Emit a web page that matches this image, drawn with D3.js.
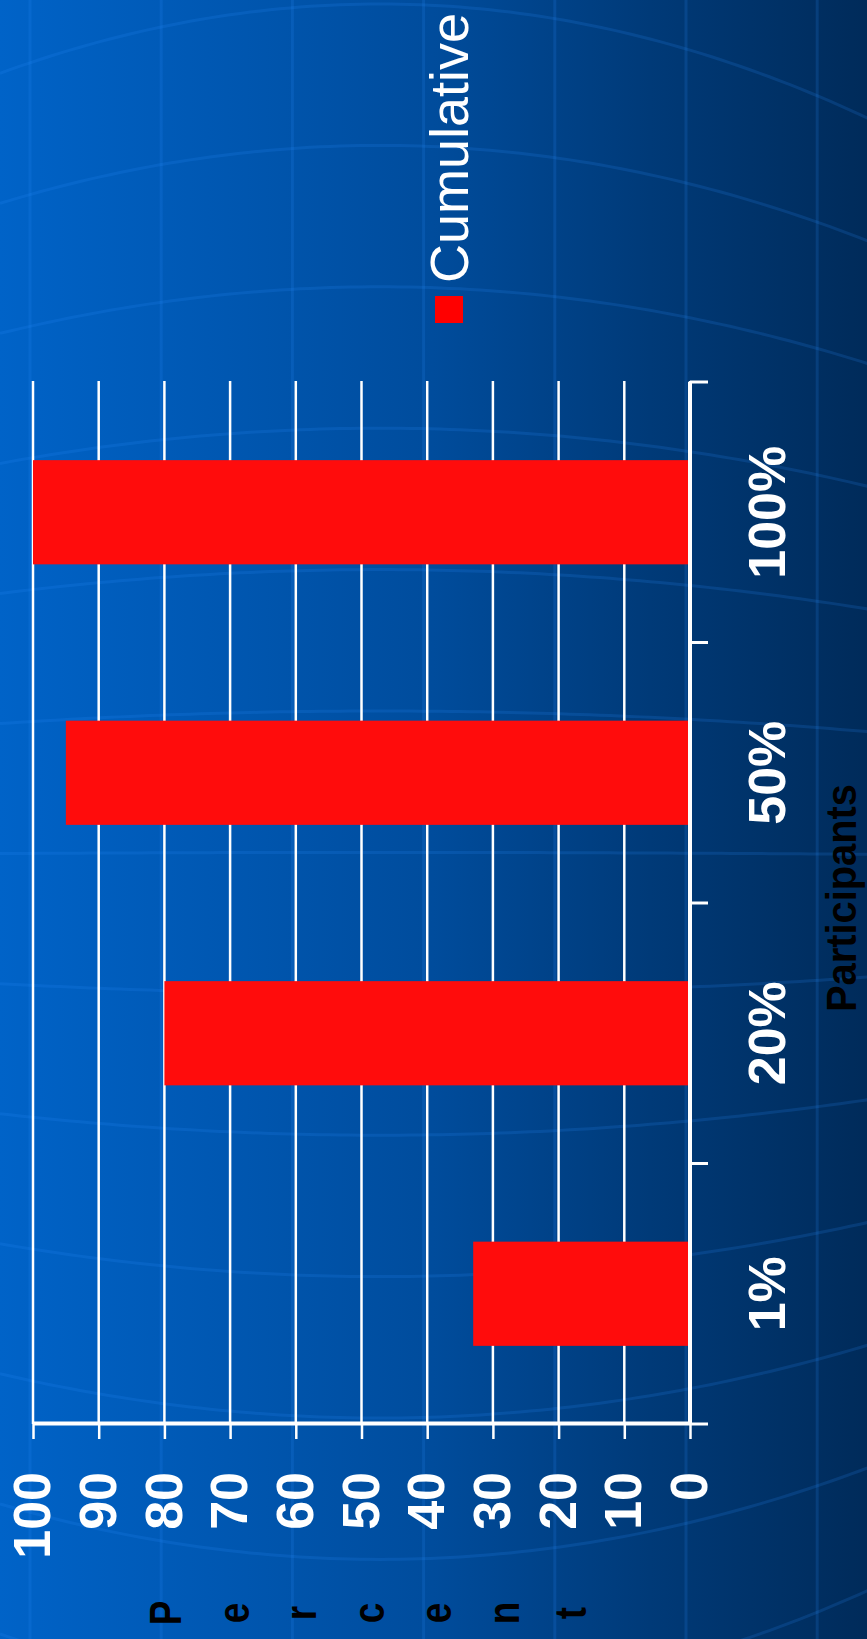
<!DOCTYPE html>
<html><head><meta charset="utf-8">
<script src="https://cdn.jsdelivr.net/npm/d3@7"></script>
<style>html,body{margin:0;padding:0;background:#003a78;} svg{display:block;}</style>
</head><body>
<script>
// ---- data ----
const categories = ["1%", "20%", "50%", "100%"];
const cumulative = [33, 80, 95, 100];
const valueTicks = [0, 10, 20, 30, 40, 50, 60, 70, 80, 90, 100];
const seriesName = "Cumulative";
const xTitle = "Participants";
const yTitle = "Percent";

const W = 867, H = 1639;
const FONT = "'Liberation Sans', Arial, sans-serif";
const svg = d3.select("body").append("svg").attr("width", W).attr("height", H);
const defs = svg.append("defs");
const grad = defs.append("linearGradient").attr("id", "bg")
  .attr("x1", "0").attr("x2", "1").attr("y1", "0").attr("y2", "0");
[[0, "#0063c8"], [0.5, "#004c9c"], [0.75, "#003a78"], [1, "#002b5a"]]
  .forEach(([o, c]) => grad.append("stop").attr("offset", o).attr("stop-color", c));
svg.append("rect").attr("width", W).attr("height", H).attr("fill", "url(#bg)");

// ---- decorative background (template globe lines) ----
const deco = svg.append("g").attr("fill", "none").attr("stroke", "#2a8cff")
  .attr("stroke-opacity", 0.17).attr("stroke-width", 3);
d3.range(7).forEach(i => deco.append("line")
  .attr("x1", 30 + 131.2 * i).attr("x2", 30 + 131.2 * i).attr("y1", 0).attr("y2", H));
const lineGen = d3.line();
d3.range(-1, 13).forEach(i => {
  const y0 = 4 + 141.4 * i;
  const k = 0.00048 - 0.000000556 * (y0 - 4);
  const pts = d3.range(0, W + 10, 10).map(px => [px, y0 + k * (px - 380) * (px - 380)]);
  deco.append("path").attr("d", lineGen(pts));
});

// ---- chart (column chart rotated -90deg) ----
const g = svg.append("g").attr("transform", `translate(0,${H}) rotate(-90)`);
const y = d3.scaleLinear().domain([0, 100]).range([690, 33]);
const x = d3.scaleBand().domain(categories).range([215, 1257]).paddingInner(0.6).paddingOuter(0.3);
const step = x.step();
const xStart = x.range()[0], xEnd = x.range()[1];

// gridlines
g.append("g").selectAll("line").data(valueTicks).join("line")
  .attr("x1", xStart).attr("x2", xEnd + 1)
  .attr("y1", d => y(d)).attr("y2", d => y(d))
  .attr("stroke", "#fff").attr("stroke-width", 2.5);

// bars
g.append("g").selectAll("rect").data(categories).join("rect")
  .attr("x", d => x(d)).attr("width", x.bandwidth())
  .attr("y", (d, i) => y(cumulative[i]))
  .attr("height", (d, i) => y(0) - y(cumulative[i]))
  .attr("fill", "#ff0c0c");

// value axis
const ya = g.append("g").attr("transform", `translate(${xStart},0)`)
  .call(d3.axisLeft(y).tickValues(valueTicks).tickSize(15).tickSizeOuter(0).tickPadding(33));
ya.select(".domain").attr("stroke", "#fff").attr("stroke-width", 4);
ya.selectAll(".tick line").attr("stroke", "#fff").attr("stroke-width", 2.5);
ya.selectAll(".tick text").attr("fill", "#fff").style("font", `bold 52px ${FONT}`);

// category axis
g.append("line").attr("x1", xStart).attr("x2", xEnd)
  .attr("y1", y(0)).attr("y2", y(0)).attr("stroke", "#fff").attr("stroke-width", 4);
g.append("g").selectAll("line").data(d3.range(categories.length + 1)).join("line")
  .attr("x1", i => xStart + i * step).attr("x2", i => xStart + i * step)
  .attr("y1", y(0)).attr("y2", y(0) + 18)
  .attr("stroke", "#fff").attr("stroke-width", 3);
const xa = g.append("g").attr("transform", `translate(0,${y(0)})`)
  .call(d3.axisBottom(x).tickSize(0).tickPadding(58));
xa.select(".domain").remove();
xa.selectAll(".tick text").attr("fill", "#fff").style("font", `bold 52px ${FONT}`);

// axis titles
g.append("text").attr("x", (xStart + xEnd) / 2 + 5).attr("y", 856)
  .attr("text-anchor", "middle").attr("textLength", 228).attr("lengthAdjust", "spacingAndGlyphs")
  .attr("fill", "#000").style("font", `bold 42px ${FONT}`).text(xTitle);
g.append("g").selectAll("text").data(yTitle.split("")).join("text")
  .attr("transform", (d, i) => `translate(26,${181 + 67.5 * i}) scale(0.82,1)`)
  .attr("text-anchor", "middle").attr("fill", "#000")
  .style("font", `bold 45px ${FONT}`).text(d => d);

// legend
const lg = g.append("g");
lg.append("rect").attr("x", 1316).attr("y", 435).attr("width", 27).attr("height", 28).attr("fill", "#ff0000");
lg.append("text").attr("x", 1356).attr("y", 468).attr("fill", "#fff")
  .style("font", `54px ${FONT}`).text(seriesName);
</script>
</body></html>
